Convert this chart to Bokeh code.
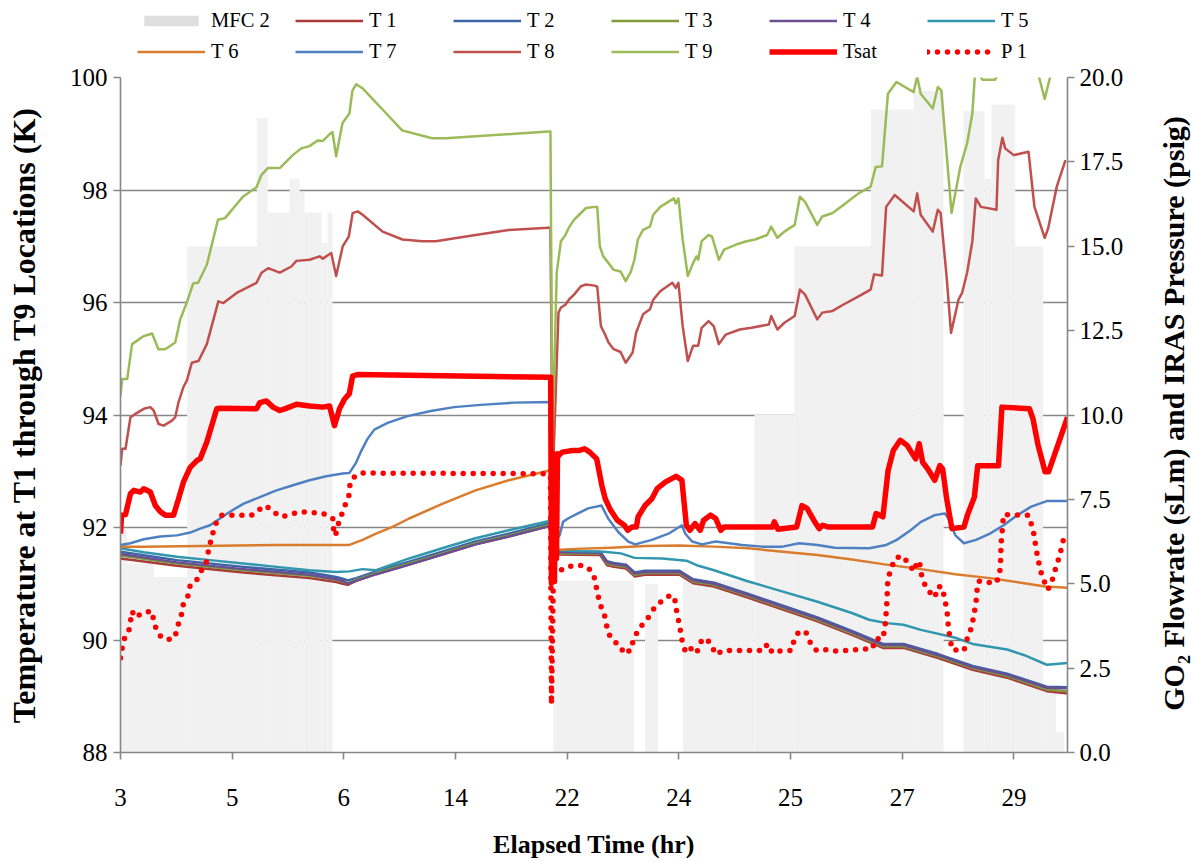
from bokeh.plotting import figure
from bokeh.layouts import column, row
from bokeh.models import (Range1d, LinearAxis, FixedTicker, Legend, LegendItem, NumeralTickFormatter, Label)
from bokeh.embed import file_html
from bokeh.resources import INLINE

FONT = "Liberation Serif"
NAN = float("nan")

# ---------------- data (x = sample position on the category axis, 10 units per labelled tick) ----------------
tick_pos = [0, 10, 20, 30, 40, 50, 60, 70, 80]
tick_labels = ["3", "5", "6", "14", "22", "24", "25", "27", "29"]

# MFC 2 flowrate columns (sLm, right axis): segment start, end, value
mfc_start = [0.0, 0.6, 3.0, 5.97, 12.21, 13.19, 15.15, 16.04, 16.49, 18.0, 18.54,
             38.77, 46.97, 50.36, 56.77, 60.34, 67.2, 71.03, 75.49, 77.36, 77.99, 80.12, 82.62, 83.78]
mfc_end = [0.6, 3.0, 5.97, 12.21, 13.19, 15.15, 16.04, 16.49, 18.0, 18.54, 18.98,
           45.99, 48.13, 56.77, 60.34, 67.2, 71.03, 73.71, 77.36, 77.99, 80.12, 82.62, 83.78, 84.5]
mfc_value = [6.6, 5.6, 5.2, 15.0, 18.8, 16.0, 17.0, 16.6, 16.0, 15.1, 16.0,
             5.1, 5.0, 5.1, 10.0, 15.0, 19.05, 19.6, 19.0, 17.0, 19.2, 15.0, 1.8, 0.6]

t9_x = [0.0, 0.15, 0.6, 1.04, 2.05, 2.83, 3.39, 4.01, 4.9, 5.35, 5.94, 6.51, 6.95, 7.73, 8.73, 9.36, 10.96,
        12.18, 12.63, 13.19, 14.26, 15.42, 16.19, 16.93, 17.65, 18.09, 18.72, 18.98, 19.31, 19.88, 20.5,
        20.77, 21.12, 21.66, 23.8, 25.22, 27.9, 29.14, 38.32, 38.5, 38.68, 39.06, 39.44, 39.84, 40.15,
        40.61, 41.07, 41.69, 42.46, 42.69, 42.92, 43.23, 43.7, 44.16, 44.78, 45.24, 45.7, 46.02, 46.33,
        46.79, 47.41, 47.71, 48.33, 49.56, 49.72, 49.96, 50.34, 50.8, 51.27, 51.58, 51.73, 52.04, 52.66,
        52.97, 53.58, 54.05, 55.12, 56.05, 56.83, 57.91, 58.27, 58.82, 59.45, 60.37, 60.84, 61.3, 62.39,
        62.84, 63.77, 64.7, 66.09, 67.17, 67.63, 68.19, 68.72, 69.48, 71.02, 71.34, 71.65, 72.73, 73.19,
        73.5, 74.42, 75.2, 75.81, 76.28, 76.5, 76.83, 77.18, 78.29, 78.61, 80.21, 82.0, 82.26, 82.76,
        83.23, 83.78, 84.76]
t9_y = [94.34, 94.64, 94.64, 95.26, 95.4, 95.45, 95.17, 95.17, 95.29, 95.7, 96.0, 96.34, 96.35, 96.67, 97.47,
        97.5, 97.88, 98.05, 98.27, 98.39, 98.39, 98.62, 98.74, 98.78, 98.88, 98.87, 98.99, 99.03, 98.6,
        99.19, 99.36, 99.77, 99.88, 99.81, 99.36, 99.06, 98.92, 98.92, 99.04, 99.04, 93.43, 96.53, 97.09,
        97.2, 97.33, 97.47, 97.56, 97.68, 97.7, 97.7, 97.0, 96.82, 96.7, 96.58, 96.55, 96.38, 96.55, 96.76,
        97.12, 97.29, 97.35, 97.56, 97.7, 97.85, 97.76, 97.85, 97.12, 96.47, 96.7, 96.82, 96.76, 97.09,
        97.2, 97.17, 96.76, 96.94, 97.03, 97.09, 97.12, 97.2, 97.35, 97.15, 97.26, 97.38, 97.88, 97.79,
        97.38, 97.53, 97.59, 97.73, 97.94, 98.06, 98.41, 98.42, 99.71, 99.92, 99.74, 100.02, 99.71, 99.45,
        99.83, 99.77, 97.59, 98.41, 98.83, 99.36, 100.02, 100.1, 99.96, 99.96, 100.05, 100.2, 100.1,
        100.0, 99.62, 100.0, 100.2, 100.3]

t8_x = [0.0, 0.15, 0.45, 0.89, 1.34, 2.08, 2.67, 2.97, 3.41, 3.86, 4.61, 4.9, 5.2, 5.64, 5.94, 6.39, 6.98,
        7.73, 8.76, 9.21, 10.4, 12.18, 12.63, 13.22, 14.26, 15.3, 15.75, 16.93, 17.83, 18.12, 18.87, 19.31,
        19.9, 20.44, 20.79, 21.24, 21.68, 23.47, 25.25, 27.03, 28.23, 31.79, 34.76, 38.32, 38.5, 38.7,
        38.99, 39.22, 39.44, 39.84, 40.15, 40.61, 41.23, 41.69, 42.46, 42.69, 43.02, 43.39, 43.7, 44.16,
        44.78, 45.24, 45.86, 46.17, 46.79, 47.41, 47.71, 48.33, 49.41, 49.72, 49.96, 50.34, 50.8, 51.27,
        51.73, 52.04, 52.66, 53.12, 53.58, 54.2, 55.44, 56.51, 58.06, 58.27, 58.82, 59.45, 60.37, 60.84,
        61.3, 62.39, 62.84, 63.77, 64.7, 66.09, 67.17, 67.48, 68.19, 68.56, 69.33, 71.03, 71.34, 71.65,
        72.73, 73.19, 73.44, 73.97, 74.37, 75.04, 75.36, 75.81, 76.28, 76.59, 77.05, 78.44, 78.59, 78.97,
        79.22, 79.98, 81.31, 81.84, 82.76, 83.07, 83.84, 84.62]
t8_y = [93.1, 93.4, 93.4, 93.96, 94.02, 94.11, 94.14, 94.08, 93.84, 93.81, 93.9, 93.96, 94.23, 94.5, 94.61,
        94.93, 94.96, 95.26, 96.02, 95.99, 96.17, 96.35, 96.53, 96.61, 96.53, 96.64, 96.74, 96.76, 96.82,
        96.78, 96.88, 96.47, 97.0, 97.17, 97.59, 97.62, 97.56, 97.26, 97.12, 97.09, 97.09, 97.2, 97.29,
        97.33, 97.33, 92.8, 94.5, 95.82, 95.91, 95.96, 96.05, 96.14, 96.29, 96.32, 96.3, 96.28, 95.58,
        95.43, 95.29, 95.17, 95.12, 94.93, 95.11, 95.46, 95.79, 95.88, 96.05, 96.2, 96.35, 96.26, 96.35,
        95.58, 94.96, 95.23, 95.23, 95.55, 95.67, 95.58, 95.26, 95.43, 95.52, 95.55, 95.61, 95.76, 95.52,
        95.64, 95.76, 96.23, 96.14, 95.7, 95.82, 95.85, 95.96, 96.11, 96.23, 96.5, 96.48, 97.7, 97.91,
        97.62, 97.94, 97.56, 97.26, 97.65, 97.59, 96.47, 95.46, 96.05, 96.17, 96.53, 97.09, 97.85, 97.7,
        97.65, 98.53, 98.93, 98.74, 98.62, 98.68, 97.7, 97.15, 97.32, 98.06, 98.53]

t7_x = [0.0, 0.89, 2.08, 3.57, 5.05, 6.24, 7.13, 8.02, 8.91, 9.8, 10.99, 12.48, 13.97, 15.45, 16.93, 18.42,
        19.9, 20.5, 21.09, 21.53, 22.13, 22.73, 23.92, 25.7, 27.79, 29.88, 32.26, 35.24, 38.52, 38.77,
        39.32, 39.63, 40.07, 40.97, 41.87, 43.07, 43.67, 44.57, 45.47, 46.08, 47.58, 49.07, 50.28, 50.58,
        51.18, 52.08, 53.28, 55.68, 57.48, 59.28, 60.78, 62.41, 63.95, 67.04, 68.58, 69.51, 70.75, 71.68,
        72.91, 73.83, 74.14, 74.76, 75.53, 76.61, 77.85, 79.08, 80.32, 81.55, 82.94, 84.8]
t7_y = [91.69, 91.72, 91.79, 91.84, 91.86, 91.91, 91.98, 92.04, 92.16, 92.28, 92.42, 92.54, 92.66, 92.75,
        92.84, 92.91, 92.96, 92.97, 93.15, 93.35, 93.58, 93.74, 93.86, 93.98, 94.07, 94.14, 94.18, 94.22,
        94.23, 91.7, 91.86, 92.1, 92.16, 92.25, 92.34, 92.39, 92.16, 91.92, 91.75, 91.7, 91.78, 91.89,
        92.04, 91.89, 91.75, 91.7, 91.75, 91.69, 91.66, 91.66, 91.72, 91.69, 91.64, 91.63, 91.69, 91.78,
        91.95, 92.1, 92.22, 92.25, 92.16, 91.86, 91.72, 91.78, 91.89, 92.04, 92.22, 92.37, 92.47, 92.47]

t6_x = [0.0, 2.08, 13.97, 20.5, 21.68, 22.88, 24.36, 25.85, 28.81, 31.79, 34.76, 38.32, 38.59, 38.86,
        40.78, 43.88, 46.97, 50.05, 53.14, 56.23, 59.32, 62.41, 65.49, 68.58, 71.68, 74.76, 77.85, 80.93,
        82.79, 84.8]
t6_y = [91.66, 91.66, 91.69, 91.69, 91.78, 91.89, 92.01, 92.16, 92.42, 92.66, 92.84, 93.01, 93.02, 91.6,
        91.62, 91.64, 91.67, 91.68, 91.66, 91.63, 91.57, 91.51, 91.43, 91.34, 91.26, 91.17, 91.1, 91.01,
        90.95, 90.93]

t5_x = [0.0, 2.08, 5.05, 8.02, 10.99, 13.97, 16.93, 19.31, 20.5, 21.68, 22.88, 25.85, 28.81, 31.79, 34.76,
        38.32, 38.59, 38.86, 40.78, 43.26, 44.8, 46.04, 48.51, 50.67, 51.6, 53.15, 56.23, 59.32, 62.41,
        65.49, 67.04, 68.58, 70.12, 71.68, 74.76, 76.3, 79.39, 80.94, 82.94, 84.8]
t5_y = [91.63, 91.56, 91.48, 91.42, 91.36, 91.3, 91.24, 91.21, 91.22, 91.26, 91.24, 91.45, 91.63, 91.81,
        91.95, 92.11, 92.12, 91.6, 91.58, 91.57, 91.54, 91.46, 91.45, 91.41, 91.33, 91.24, 91.04, 90.86,
        90.68, 90.48, 90.36, 90.3, 90.27, 90.18, 90.04, 89.93, 89.83, 89.73, 89.56, 89.59]

# T1 - T4 share the same sampling positions
bundle_x = [0.0, 5.05, 10.99, 16.93, 19.31, 19.9, 20.35, 21.1, 22.88, 25.85, 28.81, 31.79, 34.76, 38.32,
            38.59, 38.86, 42.95, 43.57, 44.19, 45.27, 46.04, 46.97, 50.05, 51.28, 53.15, 56.23, 59.32,
            62.41, 65.49, 68.27, 70.12, 73.22, 76.3, 79.39, 82.94, 84.8]
t1_y = [91.45, 91.32, 91.2, 91.1, 91.03, 91.0, 90.98, 91.05, 91.17, 91.34, 91.52, 91.7, 91.84, 92.02,
        92.03, 91.52, 91.51, 91.33, 91.3, 91.27, 91.13, 91.16, 91.16, 91.01, 90.95, 90.75, 90.54, 90.33,
        90.09, 89.86, 89.86, 89.68, 89.47, 89.33, 89.09, 89.05]
t2_y = [91.57, 91.42, 91.3, 91.2, 91.12, 91.09, 91.06, 91.1, 91.22, 91.39, 91.57, 91.75, 91.89, 92.07,
        92.08, 91.57, 91.57, 91.4, 91.37, 91.34, 91.2, 91.23, 91.23, 91.08, 91.02, 90.82, 90.61, 90.4,
        90.16, 89.93, 89.93, 89.75, 89.54, 89.4, 89.17, 89.16]
t3_y = [91.5, 91.36, 91.24, 91.14, 91.07, 91.04, 91.01, 91.07, 91.19, 91.36, 91.54, 91.72, 91.86, 92.04,
        92.05, 91.54, 91.54, 91.36, 91.33, 91.3, 91.16, 91.19, 91.19, 91.04, 90.98, 90.78, 90.57, 90.36,
        90.12, 89.89, 89.89, 89.71, 89.5, 89.36, 89.12, 89.09]
t4_y = [91.53, 91.38, 91.26, 91.16, 91.08, 91.05, 91.0, 91.05, 91.17, 91.34, 91.52, 91.7, 91.84, 92.02,
        92.03, 91.56, 91.55, 91.38, 91.35, 91.32, 91.18, 91.21, 91.21, 91.06, 91.0, 90.8, 90.59, 90.38,
        90.14, 89.91, 89.91, 89.73, 89.52, 89.38, 89.15, 89.14]

tsat_x = [0.0, 0.09, 0.45, 0.89, 1.19, 1.78, 2.08, 2.67, 3.12, 3.57, 4.01, 4.75, 5.2, 5.64, 6.24, 6.84,
          7.13, 7.73, 8.62, 8.91, 12.18, 12.48, 13.07, 13.66, 14.26, 14.71, 15.75, 16.93, 18.12, 18.72,
          19.16, 19.61, 20.05, 20.49, 20.78, 21.24, 38.52, 38.59, 38.77, 38.86, 38.95, 39.04, 39.13, 39.24,
          39.55, 40.48, 41.1, 41.56, 42.02, 42.64, 43.1, 43.41, 43.88, 44.49, 45.12, 45.42, 45.81, 46.19,
          46.35, 46.97, 47.58, 48.05, 48.81, 49.74, 50.05, 50.27, 50.67, 50.98, 51.44, 51.91, 52.22, 52.83,
          53.3, 53.76, 54.06, 58.4, 58.55, 58.86, 60.55, 61.02, 61.48, 62.26, 62.57, 62.87, 63.33, 67.34,
          67.66, 68.27, 68.73, 69.2, 69.82, 70.44, 71.2, 71.52, 71.83, 72.29, 72.91, 73.37, 73.62, 73.98,
          74.45, 75.53, 75.84, 76.46, 76.76, 78.62, 78.93, 81.4, 81.71, 82.17, 82.79, 83.1, 83.72, 84.8]
tsat_y = [91.89, 92.22, 92.23, 92.6, 92.66, 92.63, 92.69, 92.63, 92.39, 92.28, 92.22, 92.22, 92.51, 92.81,
          93.07, 93.19, 93.22, 93.52, 94.11, 94.12, 94.11, 94.22, 94.25, 94.14, 94.08, 94.11, 94.19, 94.16,
          94.14, 94.16, 93.81, 94.11, 94.28, 94.38, 94.69, 94.72, 94.67, 91.01, 93.31, 91.04, 93.22, 91.45,
          93.31, 93.28, 93.34, 93.37, 93.37, 93.4, 93.34, 93.22, 92.75, 92.51, 92.31, 92.13, 92.04, 91.95,
          92.01, 92.01, 92.19, 92.39, 92.51, 92.69, 92.81, 92.91, 92.87, 92.84, 92.04, 91.95, 92.07, 91.95,
          92.13, 92.22, 92.16, 91.95, 92.01, 92.01, 92.1, 91.97, 92.01, 92.39, 92.34, 92.07, 91.98, 92.04,
          92.01, 92.01, 92.25, 92.19, 93.01, 93.37, 93.55, 93.46, 93.22, 93.49, 93.16, 93.04, 92.84, 93.1,
          93.04, 92.51, 91.98, 92.01, 92.22, 92.54, 93.1, 93.1, 94.14, 94.11, 93.93, 93.46, 92.99, 92.99,
          93.34, 93.96]

p1_x = [0.0, 0.15, 0.29, 0.74, 1.04, 1.34, 1.78, 2.08, 2.83, 2.97, 3.27, 3.72, 4.61, 4.99, 5.2, 5.5, 5.64,
        6.09, 6.24, 6.89, 7.28, 7.73, 7.87, 8.08, 8.32, 8.62, 9.06, 11.74, 12.33, 13.01, 13.66, 14.41,
        15.3, 16.04, 17.76, 18.42, 19.01, 19.07, 19.25, 19.46, 19.76, 20.05, 20.44, 20.5, 20.78, 21.53,
        38.07, 38.5, 38.59, 38.77, 39.22, 39.51, 40.11, 41.0, 41.74, 42.34, 42.54, 42.72, 42.93, 43.32,
        43.67, 44.12, 44.71, 45.1, 45.75, 45.9, 46.35, 46.88, 47.39, 47.83, 48.48, 49.26, 49.62, 49.85,
        50.06, 50.2, 50.36, 50.65, 51.25, 51.63, 51.93, 52.43, 52.88, 53.32, 53.92, 57.58, 57.93, 58.38,
        59.18, 60.07, 60.34, 60.78, 61.42, 61.79, 62.32, 63.02, 63.8, 67.34, 67.59, 68.27, 68.43, 68.52,
        68.58, 68.65, 68.67, 68.73, 69.05, 69.36, 69.97, 70.59, 71.05, 71.36, 71.6, 71.73, 72.04, 72.53,
        72.91, 73.22, 73.62, 73.77, 73.98, 74.08, 74.14, 74.3, 74.45, 75.53, 75.75, 76.09, 76.3, 76.46,
        76.61, 76.68, 76.86, 78.31, 78.71, 78.77, 78.83, 78.84, 78.93, 79.0, 79.08, 81.31, 81.55, 81.8,
        81.93, 82.08, 82.26, 82.48, 82.79, 83.04, 83.4, 83.65, 83.93, 84.18, 84.39, 84.64]
p1_y = [2.8, 3.1, 3.34, 3.59, 4.18, 4.0, 4.1, 4.16, 4.18, 3.89, 3.59, 3.39, 3.34, 3.54, 3.83, 4.13, 4.42,
        4.67, 4.96, 5.14, 5.41, 5.67, 5.97, 6.26, 6.56, 6.85, 7.03, 7.03, 7.18, 7.32, 7.13, 6.98, 7.06,
        7.13, 7.1, 7.05, 6.93, 6.64, 6.42, 6.73, 7.01, 7.28, 7.57, 7.87, 8.13, 8.28, 8.26, 8.2, 1.42,
        5.41, 5.46, 5.41, 5.51, 5.55, 5.51, 5.31, 5.01, 4.72, 4.4, 4.1, 3.54, 3.3, 3.19, 2.92, 3.05, 3.34,
        3.61, 3.86, 4.05, 4.3, 4.49, 4.67, 4.57, 4.08, 3.78, 3.47, 3.19, 2.95, 3.12, 2.98, 3.27, 3.39,
        3.19, 2.9, 3.02, 3.02, 3.22, 2.95, 3.02, 3.02, 3.35, 3.6, 3.54, 3.24, 3.02, 3.05, 3.0, 3.08, 3.37,
        3.37, 3.67, 3.93, 4.26, 4.55, 4.87, 5.16, 5.48, 5.75, 5.83, 5.6, 5.36, 5.68, 5.55, 5.26, 4.96,
        4.72, 4.59, 4.92, 4.89, 4.57, 4.28, 3.96, 3.67, 3.37, 3.05, 3.02, 3.31, 3.59, 3.86, 4.16, 4.45,
        4.77, 5.08, 5.01, 5.21, 5.51, 5.8, 6.14, 6.46, 6.78, 7.05, 7.03, 6.78, 6.46, 6.17, 5.87, 5.58,
        5.28, 5.01, 4.82, 5.07, 5.36, 5.65, 5.95, 6.25, 6.54]

y_ticks = [88, 90, 92, 94, 96, 98, 100]
right_ticks = [0, 2.5, 5, 7.5, 10, 12.5, 15, 17.5, 20]

legend_labels = ["MFC 2", "T 1", "T 2", "T 3", "T 4", "T 5", "T 6", "T 7", "T 8", "T 9", "Tsat", "P 1"]
series_keys = ["T1", "T2", "T3", "T4", "T5", "T6", "T7", "T8", "T9", "Tsat", "P1"]
left_title = "Temperature at T1 through T9 Locations (K)"
right_title = "GO\u2082 Flowrate (sLm) and IRAS Pressure (psig)"
x_title = "Elapsed Time (hr)"

# ---------------- styling ----------------
C = {"T1": "#A93C3A", "T2": "#3B64A6", "T3": "#7F9B3E", "T4": "#6A4F92", "T5": "#3197AF",
     "T6": "#DA7C2E", "T7": "#4F80C2", "T8": "#C0504D", "T9": "#9BBB59", "Tsat": "#FF0000", "P1": "#FF0000"}
GRAY = "#878787"
LW = {k: 2.5 for k in series_keys}
LW["Tsat"] = 5.5
LW["P1"] = 5.5
TOP = 14      # border above the main frame (legend strip sits above it)
BOTTOM = 106
MAIN_W = 1126
SIDE_W = 1191 - MAIN_W


def line_style(k):
    s = dict(line_color=C[k], line_width=LW[k], line_join="round")
    if k == "P1":
        s.update(line_dash="0 10", line_cap="round")
    return s


# ---------------- main chart ----------------
p = figure(width=MAIN_W, height=TOP + 678 + BOTTOM, x_range=Range1d(0, 84.8), y_range=Range1d(88, 100),
           output_backend="svg", toolbar_location=None,
           min_border_left=120, min_border_right=55, min_border_top=TOP, min_border_bottom=BOTTOM)
p.extra_y_ranges = {"right": Range1d(0, 20)}
p.outline_line_color = None

p.quad(left=mfc_start, right=mfc_end, bottom=0, top=mfc_value, y_range_name="right",
       fill_color="#F1F1F1", line_color=None)

p.line(bundle_x, t1_y, **line_style("T1"))
p.line(bundle_x, t2_y, **line_style("T2"))
p.line(bundle_x, t3_y, **line_style("T3"))
p.line(bundle_x, t4_y, **line_style("T4"))
p.line(t5_x, t5_y, **line_style("T5"))
p.line(t6_x, t6_y, **line_style("T6"))
p.line(t7_x, t7_y, **line_style("T7"))
p.line(t8_x, t8_y, **line_style("T8"))
p.line(t9_x, t9_y, **line_style("T9"))
p.line(tsat_x, tsat_y, **line_style("Tsat"))
p.line(p1_x, p1_y, y_range_name="right", **line_style("P1"))

p.xaxis.ticker = FixedTicker(ticks=tick_pos)
p.xaxis.major_label_overrides = {t: l for t, l in zip(tick_pos, tick_labels)}
left_ax = p.yaxis[0]
left_ax.ticker = FixedTicker(ticks=y_ticks)
p.ygrid.ticker = FixedTicker(ticks=y_ticks)
p.xgrid.visible = False
p.ygrid.grid_line_color = GRAY
p.ygrid.grid_line_width = 1.6

ax_r = LinearAxis(y_range_name="right", ticker=FixedTicker(ticks=right_ticks),
                  formatter=NumeralTickFormatter(format="0.0"))
p.add_layout(ax_r, "right")

for ax in [p.xaxis[0], left_ax, ax_r]:
    ax.axis_line_color = GRAY
    ax.axis_line_width = 1.6
    ax.major_tick_line_color = GRAY
    ax.major_tick_line_width = 1.6
    ax.major_tick_in = 0
    ax.major_tick_out = 7
    ax.minor_tick_line_color = None
    ax.major_label_text_font = FONT
    ax.major_label_text_font_size = "25px"
    ax.major_label_text_color = "black"
    ax.axis_label_text_font = FONT
    ax.axis_label_text_font_style = "bold"
    ax.axis_label_text_color = "black"

p.xaxis[0].major_label_standoff = 29
p.xaxis[0].axis_label = x_title
p.xaxis[0].axis_label_text_font_size = "26px"
p.xaxis[0].axis_label_standoff = 21
left_ax.major_label_standoff = 6
left_ax.axis_label = left_title
left_ax.axis_label_text_font_size = "32px"
left_ax.axis_label_standoff = 25
ax_r.major_label_standoff = 5
ax_r.axis_label = None

# ---------------- right-hand title strip ----------------
rf = figure(width=SIDE_W, height=TOP + 678 + BOTTOM, x_range=Range1d(0, 1), y_range=Range1d(0, 1),
            output_backend="svg", toolbar_location=None, x_axis_type=None, y_axis_type=None,
            min_border_left=0, min_border_right=0, min_border_top=TOP, min_border_bottom=BOTTOM)
rf.outline_line_color = None
rf.add_layout(Label(x=47, y=339, x_units="screen", y_units="screen", text=right_title,
                    angle=90, angle_units="deg", text_align="center", text_baseline="middle",
                    text_font=FONT, text_font_size="30px", text_font_style="bold", text_color="black"))

# ---------------- legend strip (above the chart) ----------------
lf = figure(width=1191, height=77 - TOP, x_range=Range1d(0, 1), y_range=Range1d(0, 1),
            output_backend="svg", toolbar_location=None, x_axis_type=None, y_axis_type=None,
            min_border_left=120, min_border_right=0, min_border_top=0, min_border_bottom=0)
lf.outline_line_color = None

leg_r = [lf.quad(left=[NAN], right=[NAN], bottom=[NAN], top=[NAN], fill_color="#DEDEDE", line_color=None)]
for k in series_keys:
    leg_r.append(lf.line([NAN], [NAN], **line_style(k)))
items = [LegendItem(label=lab, renderers=[rr]) for lab, rr in zip(legend_labels, leg_r)]
leg = Legend(items=items, orientation="horizontal", ncols=6, location=(17, 0),
             glyph_width=68, glyph_height=13, label_standoff=6, label_width=76, label_height=20,
             spacing=8, padding=0, margin=0, border_line_color=None, background_fill_alpha=0,
             label_text_font=FONT, label_text_font_size="20.5px", label_text_color="black")
lf.add_layout(leg, "center")

open("out.html", "w").write(file_html(column(lf, row(p, rf, spacing=0), spacing=0), INLINE))
